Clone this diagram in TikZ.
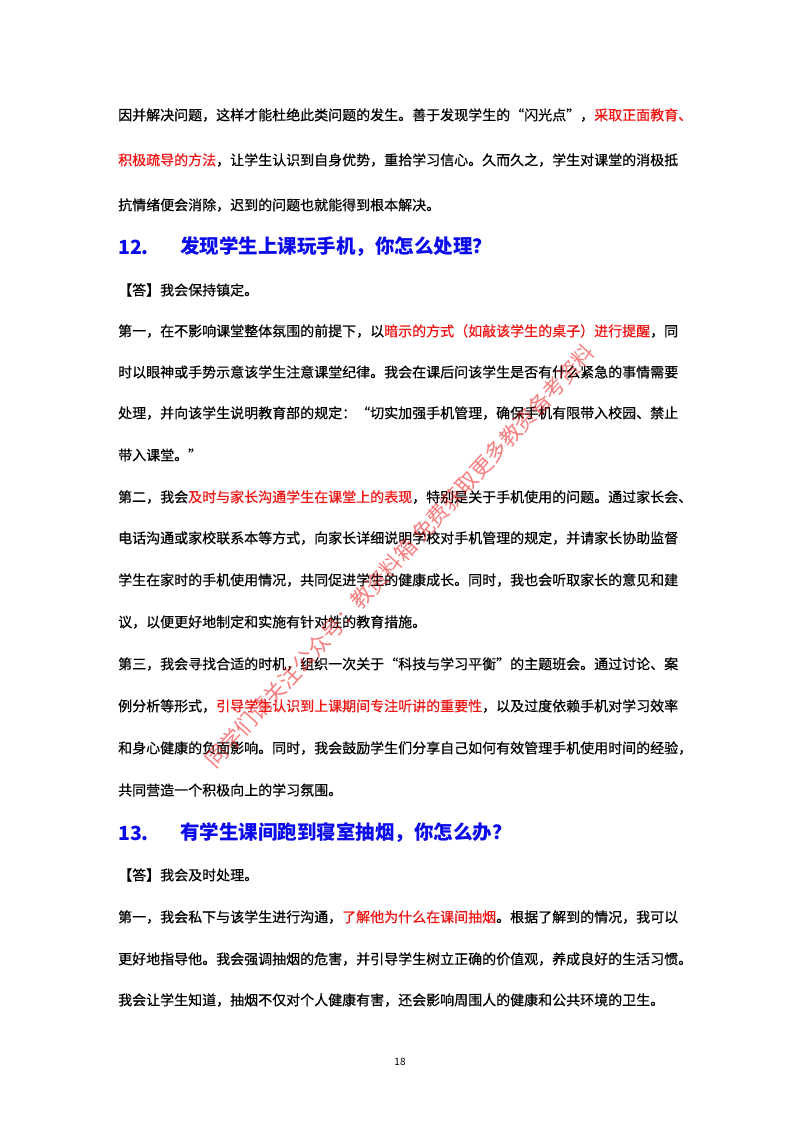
\documentclass[tikz,border=0pt]{standalone}
\usepackage{fontspec}
\setmainfont{Noto Sans CJK SC}
\newfontfamily\bodyf[FakeBold=0.5]{Noto Sans CJK SC}
\XeTeXlinebreaklocale "zh"
\XeTeXlinebreakskip=0pt plus 2pt
\definecolor{hred}{RGB}{240,20,20}
\definecolor{hblue}{RGB}{10,10,235}
\newcommand{\rd}[1]{\textcolor{hred}{#1}}
\begin{document}
\begin{tikzpicture}[x=1pt,y=-1pt,
  body/.style={anchor=west,inner sep=0pt,font=\bodyf\fontsize{14}{14}\selectfont},
  head/.style={anchor=west,inner sep=0pt,text=hblue,font=\fontsize{19.5}{20}\bfseries\selectfont}]
\useasboundingbox[fill=white] (0,0) rectangle (800,1132);
\newcommand{\jl}[3]{\node[body] (#1) at (118,#2) {\makebox[565pt][s]{#3}};}
\newcommand{\pl}[3]{\node[body] (#1) at (118,#2) {#3};}
\jl{l1}{115}{因并解决问题，这样才能杜绝此类问题的发生。善于发现学生的“闪光点”，\rd{采取正面教育、}}
\jl{l2}{160}{\rd{积极疏导的方法}，让学生认识到自身优势，重拾学习信心。久而久之，学生对课堂的消极抵}
\pl{l3}{205}{抗情绪便会消除，迟到的问题也就能得到根本解决。}
\node[head] (h12n) at (118,247) {12.};
\node[head] (h12) at (180,247) {发现学生上课玩手机，你怎么处理？};
\pl{l4}{290}{【答】我会保持镇定。}
\jl{l5}{331}{第一，在不影响课堂整体氛围的前提下，以\rd{暗示的方式（如敲该学生的桌子）进行提醒}，同}
\jl{l6}{372}{时以眼神或手势示意该学生注意课堂纪律。我会在课后问该学生是否有什么紧急的事情需要}
\jl{l7}{413}{处理，并向该学生说明教育部的规定：“切实加强手机管理，确保手机有限带入校园、禁止}
\pl{l8}{455}{带入课堂。”}
\jl{l9}{497}{第二，我会\rd{及时与家长沟通学生在课堂上的表现}，特别是关于手机使用的问题。通过家长会、}
\jl{l10}{538}{电话沟通或家校联系本等方式，向家长详细说明学校对手机管理的规定，并请家长协助监督}
\jl{l11}{580}{学生在家时的手机使用情况，共同促进学生的健康成长。同时，我也会听取家长的意见和建}
\pl{l12}{622}{议，以便更好地制定和实施有针对性的教育措施。}
\jl{l13}{664}{第三，我会寻找合适的时机，组织一次关于“科技与学习平衡”的主题班会。通过讨论、案}
\jl{l14}{706}{例分析等形式，\rd{引导学生认识到上课期间专注听讲的重要性}，以及过度依赖手机对学习效率}
\jl{l15}{748}{和身心健康的负面影响。同时，我会鼓励学生们分享自己如何有效管理手机使用时间的经验，}
\pl{l16}{790}{共同营造一个积极向上的学习氛围。}
\node[head] (h13n) at (118,833) {13.};
\node[head] (h13) at (180,833) {有学生课间跑到寝室抽烟，你怎么办？};
\pl{l17}{875}{【答】我会及时处理。}
\jl{l18}{917}{第一，我会私下与该学生进行沟通，\rd{了解他为什么在课间抽烟}。根据了解到的情况，我可以}
\jl{l19}{959}{更好地指导他。我会强调抽烟的危害，并引导学生树立正确的价值观，养成良好的生活习惯。}
\jl{l20}{1000}{我会让学生知道，抽烟不仅对个人健康有害，还会影响周围人的健康和公共环境的卫生。}
\node[inner sep=0pt,font=\fontsize{10}{10}\selectfont] (pg) at (400,1062) {18};
\node[rotate=47.5,inner sep=0pt,text=hred,opacity=0.55,font=\fontsize{21.5}{22}\selectfont] (wm) at (400,556)
  {同学们请关注公众号：教资料箱 免费获取更多教资备考资料};
\end{tikzpicture}
\end{document}
